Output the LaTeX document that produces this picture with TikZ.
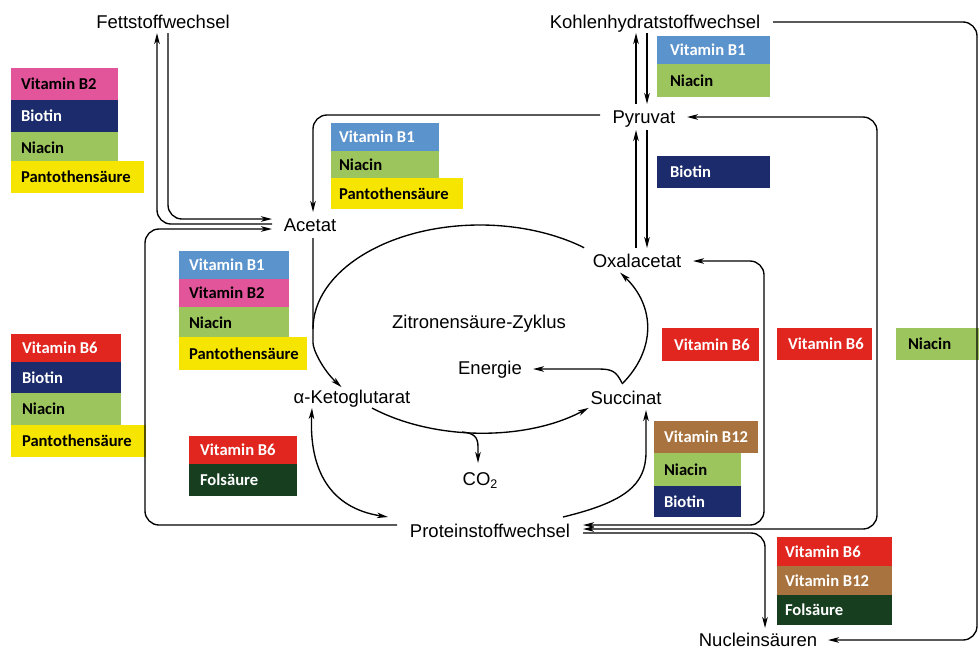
\documentclass[tikz,border=0pt]{standalone}
\usepackage{fontspec}
\setmainfont{Liberation Sans}
\newfontfamily\vitfont{Carlito}
\usetikzlibrary{arrows.meta}
\definecolor{cBone}{HTML}{5B93CC}
\definecolor{cBtwo}{HTML}{E3559A}
\definecolor{cBio}{HTML}{1B2B6B}
\definecolor{cNia}{HTML}{9DC55D}
\definecolor{cPan}{HTML}{F6E500}
\definecolor{cBsix}{HTML}{E1251F}
\definecolor{cBtw}{HTML}{A8733E}
\definecolor{cFol}{HTML}{173F1F}
\newcommand\vitb[9]{\node[vit, fill=#7, text=#8, minimum width=#4pt, minimum height=#5pt, inner xsep=#6pt] (#1) at (#2,#3) {\makebox[\dimexpr #4pt-#6pt-#6pt\relax][l]{#9}};}
\begin{document}
\begin{tikzpicture}[x=1pt,y=-1pt,
  lbl/.style={inner sep=0pt, anchor=base, font=\fontsize{18.5}{22}\selectfont},
  vit/.style={anchor=north west, inner ysep=0pt, outer sep=0pt, draw=none, font=\vitfont\bfseries\fontsize{16.6}{18}\selectfont},
  con/.style={line width=1.35pt, rounded corners=14pt},
  curv/.style={line width=1.35pt},
  tip/.tip={Stealth[length=11pt,width=5.5pt,inset=3pt]},
  arr/.style={con, -tip},
  barr/.style={con, tip-tip},
  carr/.style={curv, -tip},
  cbarr/.style={curv, tip-tip}]
\fill[white] (0,0) rectangle (979,651);
\useasboundingbox (0,0) rectangle (979,651);

% labels
\node[lbl] (fett) at (163,28) {Fettstoffwechsel};
\node[lbl] (kohlen) at (655,28) {Kohlenhydratstoffwechsel};
\node[lbl] (pyr) at (644,123) {Pyruvat};
\node[lbl] (oxa) at (637,267) {Oxalacetat};
\node[lbl] (acetat) at (310,231) {Acetat};
\node[lbl] (keto) at (352,403) {α-Ketoglutarat};
\node[lbl] (succ) at (626,404) {Succinat};
\node[lbl] (energie) at (490,374) {Energie};
\node[lbl] (zyklus) at (479,328) {Zitronensäure-Zyklus};
\node[lbl] (co2) at (480,485) {CO\raisebox{-0.4ex}{\fontsize{12.5}{14}\selectfont 2}};
\node[lbl] (protein) at (490,537) {Proteinstoffwechsel};
\node[lbl] (nuclein) at (758,646) {Nucleinsäuren};

% vitamin boxes
\vitb{sAbtwo}{11}{68}{107}{32}{10}{cBtwo}{black}{Vitamin B2}
\vitb{sAbio}{11}{100}{107}{32}{10}{cBio}{white}{Biotin}
\vitb{sAnia}{11}{132}{107}{32}{10}{cNia}{black}{Niacin}
\vitb{sApan}{11}{161}{133}{32}{10}{cPan}{black}{Pantothensäure}

\vitb{sBbone}{331}{123}{108}{28}{8}{cBone}{white}{Vitamin B1}
\vitb{sBnia}{331}{151}{108}{28}{8}{cNia}{black}{Niacin}
\vitb{sBpan}{331}{178}{132}{31}{8}{cPan}{black}{Pantothensäure}

\vitb{sCbone}{179}{251}{110}{28}{10}{cBone}{white}{Vitamin B1}
\vitb{sCbtwo}{179}{279}{110}{28}{10}{cBtwo}{black}{Vitamin B2}
\vitb{sCnia}{179}{307}{110}{31}{10}{cNia}{black}{Niacin}
\vitb{sCpan}{179}{337}{128}{33}{10}{cPan}{black}{Pantothensäure}

\vitb{sDbsix}{189}{436}{108}{28}{11}{cBsix}{white}{Vitamin B6}
\vitb{sDfol}{189}{464}{108}{32}{11}{cFol}{white}{Folsäure}

\vitb{sEbsix}{11}{334}{110}{28}{11}{cBsix}{white}{Vitamin B6}
\vitb{sEbio}{11}{362}{110}{31}{11}{cBio}{white}{Biotin}
\vitb{sEnia}{11}{393}{110}{32}{11}{cNia}{black}{Niacin}
\vitb{sEpan}{11}{425}{135}{32}{11}{cPan}{black}{Pantothensäure}

\vitb{sFbone}{657}{36}{113}{28}{13}{cBone}{white}{Vitamin B1}
\vitb{sFnia}{657}{64}{113}{33}{13}{cNia}{black}{Niacin}
\vitb{sFbio}{657}{156}{113}{32}{13}{cBio}{white}{Biotin}

\vitb{rAbsix}{662}{328}{97}{33}{12}{cBsix}{white}{Vitamin B6}
\vitb{rBbsix}{777}{328}{95}{32}{11}{cBsix}{white}{Vitamin B6}
\vitb{rCnia}{896}{328}{83}{32}{12}{cNia}{black}{Niacin}

\vitb{sGbtw}{654}{421}{104}{32}{10}{cBtw}{white}{Vitamin B12}
\vitb{sGnia}{654}{453}{87}{33}{10}{cNia}{black}{Niacin}
\vitb{sGbio}{654}{486}{87}{31}{10}{cBio}{white}{Biotin}

\vitb{sHbsix}{777}{537}{115}{29}{8}{cBsix}{white}{Vitamin B6}
\vitb{sHbtw}{777}{566}{115}{29}{8}{cBtw}{white}{Vitamin B12}
\vitb{sHfol}{777}{595}{115}{30}{8}{cFol}{white}{Folsäure}

% Fettstoffwechsel <-> Acetat
\draw[arr] ([shift={(-38,-7)}]acetat.base) -- (157,224) -- ([shift={(-6,5)}]fett.base);
\draw[arr] ([shift={(5,5)}]fett.base) -- (168,219) -- ([shift={(-38,-12)}]acetat.base);
% Protein -> Acetat
\draw[arr] ([shift={(-93,-12)}]protein.base) -- (145,525) -- (145,229) -- ([shift={(-38,-2)}]acetat.base);
% Pyruvat -> Acetat
\draw[arr] ([shift={(-44,-8)}]pyr.base) -- (313,115) -- ([shift={(3,-19)}]acetat.base);

% citric acid cycle
\coordinate (cycleft) at (313,329);
\draw[arr] ([shift={(3,7)}]acetat.base) -- (cycleft) arc[start angle=180, end angle=146, x radius=167, y radius=104];
\draw[curv] (cycleft) arc[start angle=180, end angle=308.6, x radius=167, y radius=104];
\draw[carr] ([shift={(20,5)}]keto.base) arc[start angle=130.4, end angle=49.5, x radius=167, y radius=104];
\draw[carr] ([shift={(-4,-20)}]succ.base) arc[start angle=31.8, end angle=-33, x radius=167, y radius=104];
\coordinate (cobr) at (462,432);
\draw[carr] (cobr) .. controls (474,433) and (478,437) .. (478,447) -- ([shift={(-2,-22)}]co2.base);
\draw[carr] ([shift={(-4,-21)}]succ.base) .. controls (616,371) and (612,369) .. (598,369) -- ([shift={(43,-5)}]energie.base);

% Pyruvat <-> Kohlenhydrat / Oxalacetat
\draw[arr] ([shift={(-8,-19)}]pyr.base) -- ([shift={(-19,5)}]kohlen.base);
\draw[arr] ([shift={(-8,5)}]kohlen.base) -- ([shift={(3,-19)}]pyr.base);
\draw[arr] ([shift={(-1,-19)}]oxa.base) -- ([shift={(-8,7)}]pyr.base);
\draw[arr] ([shift={(3,7)}]pyr.base) -- ([shift={(10,-19)}]oxa.base);

% Protein connections on the right
\draw[barr] ([shift={(93,-12)}]protein.base) -- (764,525) -- (764,261) -- ([shift={(56,-6)}]oxa.base);
\draw[barr] ([shift={(93,-8)}]protein.base) -- (877,529) -- (877,117) -- ([shift={(43,-6)}]pyr.base);
\draw[arr] ([shift={(93,-4)}]protein.base) -- (765,533) -- ([shift={(7,-18)}]nuclein.base);
\draw[arr] ([shift={(118,-6)}]kohlen.base) -- (977,22) -- (977,640) -- ([shift={(70,-6)}]nuclein.base);

% Protein <-> alpha-Ketoglutarat, Protein -> Succinat
\draw[cbarr] ([shift={(-40,5)}]keto.base) .. controls (309,470) and (330,508) .. ([shift={(-102,-20)}]protein.base);
\draw[carr] ([shift={(73,-20)}]protein.base) .. controls (625,502) and (646,485) .. (646,452) -- ([shift={(20,6)}]succ.base);
\end{tikzpicture}
\end{document}
